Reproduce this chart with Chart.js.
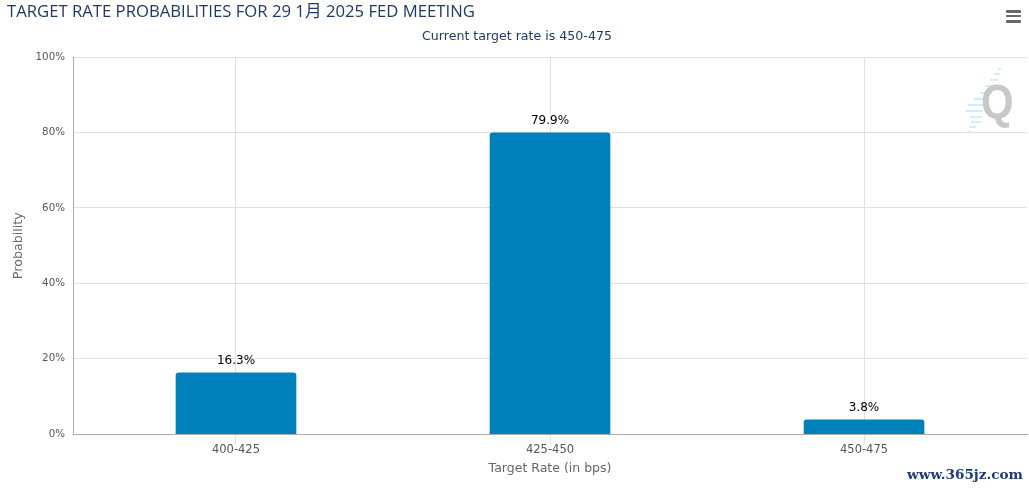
<!DOCTYPE html>
<html>
<head>
<meta charset="utf-8">
<title>Target rate probabilities</title>
<script src="https://cdn.jsdelivr.net/npm/chart.js@4/dist/chart.umd.min.js"></script>
<style>
  html, body { margin: 0; padding: 0; background: #fff; }
  #box { position: relative; width: 1029px; height: 490px; overflow: hidden; }
  #grafico { position: absolute; left: 0; top: 0; }
  .menu { position: absolute; left: 1006px; width: 15px; height: 2.5px; background: #666; border-radius: 1px; }
  #logo { position: absolute; left: 964px; top: 66px; width: 50px; height: 70px; }
  #sito { position: absolute; left: 907px; top: 466px; font: bold 13.6px "DejaVu Serif", serif; color: #1f3a78; }
</style>
</head>
<body>
<div id="box">
  <canvas id="grafico" width="1029" height="490"></canvas>
  <div class="menu" style="top:10px"></div>
  <div class="menu" style="top:14.5px"></div>
  <div class="menu" style="top:20px"></div>
  <svg id="logo" viewBox="0 0 50 70">
    <g fill="#cdeefa">
      <rect x="34" y="2" width="3" height="2"/>
      <rect x="30" y="7" width="6" height="2"/>
      <rect x="26" y="13" width="8" height="2"/>
      <rect x="21" y="19" width="11" height="2"/>
      <rect x="16" y="26" width="12" height="2"/>
      <rect x="10" y="32" width="14" height="2"/>
      <rect x="4" y="38" width="16" height="2"/>
      <rect x="1" y="44" width="18" height="2"/>
      <rect x="6" y="50" width="12" height="2"/>
      <rect x="7" y="55" width="10" height="2"/>
      <rect x="5" y="60" width="7" height="2"/>
      <rect x="3" y="65" width="4" height="2"/>
    </g>
    <text transform="translate(17 52) scale(1 1.15)" font-family="Liberation Sans" font-weight="bold" font-size="42" fill="#c8c8c8">Q</text>
  </svg>
  <div id="sito">www.365jz.com</div>
</div>
<script>
// dati
var fasce = ['400-425', '425-450', '450-475'];
var posizioni = [0, 1, 2];
var probabilita = [16.3, 79.9, 3.8];
var etichette_barre = ['16.3%', '79.9%', '3.8%'];

var font_base = '"DejaVu Sans", sans-serif';

// scrive la percentuale sopra ogni barra
var etichette = {
    id: 'etichette',
    afterDatasetsDraw: function(chart){
        var ctx = chart.ctx;
        var barre = chart.getDatasetMeta(0).data;
        ctx.save();
        ctx.font = '12px ' + font_base;
        ctx.fillStyle = '#000';
        ctx.textAlign = 'center';
        ctx.textBaseline = 'bottom';
        for (var i = 0; i < barre.length; i++) {
            ctx.fillText(etichette_barre[i], barre[i].x, barre[i].y - 6);
        }
        ctx.restore();
    }
};

// asse x lineare: le categorie non arrivano ai bordi esattamente a metà passo
var punti = [];
for (var i = 0; i < fasce.length; i++) {
    punti.push({ x: posizioni[i], y: probabilita[i] });
}

var ctx = document.getElementById('grafico').getContext('2d');
var myChart = new Chart(ctx, {
    type: 'bar',
    data: {
        datasets: [{
            label: 'Probability',
            data: punti,
            backgroundColor: '#0081bb',
            borderRadius: { topLeft: 3, topRight: 3 },
            borderSkipped: 'bottom',
            barThickness: 120
        }]
    },
    plugins: [etichette],
    options: {
        responsive: false,
        animation: false,
        layout: { padding: { left: 7, right: 2, top: 0, bottom: 0 } },
        plugins: {
            legend: { display: false },
            tooltip: { enabled: false },
            title: {
                display: true,
                text: 'TARGET RATE PROBABILITIES FOR 29 1月 2025 FED MEETING',
                align: 'start',
                color: '#1f3a68',
                font: { family: '"Open Sans", "Noto Sans CJK SC", sans-serif', size: 16.7, weight: 'normal' },
                padding: { top: 2, bottom: 6 }
            },
            subtitle: {
                display: true,
                text: 'Current target rate is 450-475',
                color: '#1f3a68',
                font: { family: font_base, size: 12.6, weight: 'normal' },
                padding: { top: 1, bottom: 13 }
            }
        },
        scales: {
            x: {
                type: 'linear',
                offset: false,
                min: -0.519,
                max: 2.519,
                title: {
                    display: true,
                    text: 'Target Rate (in bps)',
                    color: '#666',
                    font: { family: font_base, size: 12.5 },
                    padding: { top: 5, bottom: 14 }
                },
                grid: { color: '#e0e0e0', offset: false, tickLength: 10, tickColor: '#e0e0e0' },
                border: { color: '#aaa' },
                ticks: {
                    color: '#555',
                    font: { family: font_base, size: 11.5 },
                    padding: -1,
                    maxRotation: 0,
                    callback: function(valore){ return fasce[valore]; }
                },
                afterBuildTicks: function(scala){
                    scala.ticks = posizioni.map(function(p){ return { value: p }; });
                }
            },
            y: {
                min: 0,
                max: 100,
                title: {
                    display: true,
                    text: 'Probability',
                    color: '#666',
                    font: { family: font_base, size: 12.7 },
                    padding: { top: 4, bottom: 8 }
                },
                grid: { color: '#e0e0e0', tickLength: 0 },
                border: { color: '#aaa' },
                ticks: {
                    stepSize: 20,
                    color: '#555',
                    font: { family: font_base, size: 10.3 },
                    padding: 8,
                    callback: function(valore){ return valore + '%'; }
                },
                afterFit: function(scala){ scala.width = 66; }
            }
        }
    }
});
</script>
</body>
</html>
